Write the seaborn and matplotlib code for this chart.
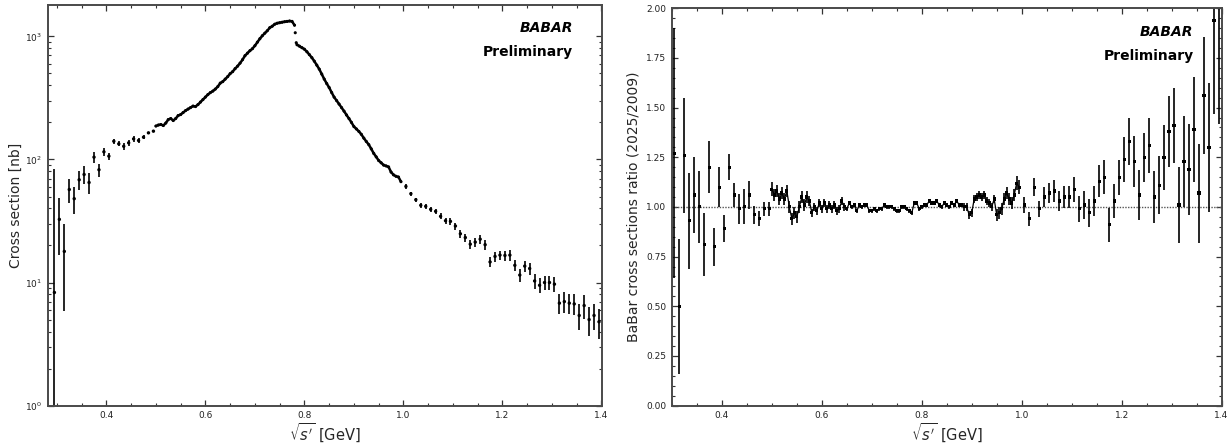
import numpy as np
import matplotlib
matplotlib.use("Agg")
import matplotlib.pyplot as plt
import seaborn as sns
from matplotlib.ticker import MultipleLocator, LogLocator, NullFormatter, FormatStrFormatter

# ---------------- e+e- -> pi+pi- cross section [nb] ----------------
# coarse 10 MeV bins below 0.5 GeV
mass_low = [0.295, 0.305, 0.315, 0.325, 0.335, 0.345, 0.355, 0.365, 0.375, 0.385,
            0.395, 0.405, 0.415, 0.425, 0.435, 0.445, 0.455, 0.465, 0.475, 0.485, 0.495]
xsec_low = [8.3, 32.6, 17.9, 57.0, 48.0, 68.4, 75.5, 65.0, 104.4, 82.5,
            115.4, 106.4, 140.6, 134.0, 128.0, 136.5, 147.0, 142.6, 151.7, 164.6, 169.8]
xsec_low_err = [76.0, 16.0, 12.0, 13.0, 12.0, 12.0, 12.5, 12.5, 11.0, 10.0,
                9.0, 7.5, 7.0, 6.0, 8.0, 8.0, 8.0, 6.0, 5.0, 4.0, 4.0]

# fine binning through the rho-omega region
mass_fine = [0.500, 0.505, 0.510, 0.515, 0.520, 0.525, 0.530, 0.535, 0.540, 0.545,
             0.550, 0.555, 0.560, 0.565, 0.570, 0.575, 0.580, 0.585, 0.590, 0.595,
             0.600, 0.605, 0.610, 0.615, 0.620, 0.625, 0.630, 0.635, 0.640, 0.645,
             0.650, 0.655, 0.660, 0.665, 0.670, 0.675, 0.680, 0.685, 0.690, 0.695,
             0.700, 0.705, 0.710, 0.715, 0.720, 0.725, 0.730, 0.735, 0.740, 0.745,
             0.750, 0.755, 0.760, 0.765, 0.770, 0.775, 0.780, 0.7815, 0.7835, 0.785,
             0.790, 0.795, 0.800, 0.805, 0.810, 0.815, 0.820, 0.825, 0.830, 0.835,
             0.840, 0.845, 0.850, 0.855, 0.860, 0.865, 0.870, 0.875, 0.880, 0.885,
             0.890, 0.895, 0.900, 0.905, 0.910, 0.915, 0.920, 0.925, 0.930, 0.935,
             0.940, 0.945, 0.950, 0.955, 0.960, 0.965, 0.970, 0.975, 0.980, 0.985,
             0.990, 0.995]
xsec_fine = [186.9, 190.5, 192.3, 188.7, 197.7, 211.1, 215.1, 207.2, 215.1, 227.5,
             231.7, 240.6, 249.7, 256.8, 264.1, 271.6, 269.1, 279.3, 292.6, 306.6,
             321.3, 336.7, 349.5, 359.4, 373.1, 390.9, 417.3, 429.2, 449.7, 471.2,
             498.3, 517.3, 547.1, 573.3, 606.3, 647.1, 697.7, 730.9, 765.9, 794.9,
             840.7, 897.5, 957.9, 1013.0, 1062.0, 1112.0, 1177.0, 1210.0, 1256.0, 1280.0,
             1292.0, 1304.0, 1316.0, 1324.0, 1334.0, 1324.0, 1233.0, 1071.0, 889.0, 856.0,
             833.0, 810.0, 787.0, 751.0, 711.0, 672.0, 629.0, 584.0, 542.0, 494.0,
             450.0, 414.0, 384.0, 350.0, 321.0, 301.0, 282.0, 264.0, 247.0, 230.0,
             215.0, 200.0, 185.0, 177.0, 169.0, 160.0, 149.0, 140.0, 132.0, 122.0,
             112.0, 105.0, 98.0, 94.0, 90.0, 88.6, 87.0, 79.0, 75.0, 73.0,
             72.0, 66.0]

# coarse 10 MeV bins above 1 GeV
mass_high = [1.005, 1.015, 1.025, 1.035, 1.045, 1.055, 1.065, 1.075, 1.085, 1.095,
             1.105, 1.115, 1.125, 1.135, 1.145, 1.155, 1.165, 1.175, 1.185, 1.195,
             1.205, 1.215, 1.225, 1.235, 1.245, 1.255, 1.265, 1.275, 1.285, 1.295,
             1.305, 1.315, 1.325, 1.335, 1.345, 1.355, 1.365, 1.375, 1.385, 1.395]
xsec_high = [60.4, 52.7, 47.1, 42.4, 41.6, 39.3, 37.9, 34.5, 31.8, 31.4,
             28.8, 24.9, 23.2, 20.5, 21.3, 22.5, 20.3, 14.7, 16.3, 16.7,
             16.6, 16.7, 13.8, 11.5, 13.6, 13.0, 10.3, 9.5, 10.0, 10.0,
             9.7, 6.8, 7.0, 6.8, 6.7, 5.4, 6.5, 5.0, 5.4, 4.8]
xsec_high_err = [2.4, 2.1, 1.9, 1.9, 1.9, 2.0, 2.0, 1.9, 1.8, 1.9,
                 1.9, 1.8, 1.8, 1.7, 1.8, 1.9, 1.8, 1.4, 1.5, 1.5,
                 1.5, 1.6, 1.5, 1.4, 1.5, 1.5, 1.4, 1.3, 1.3, 1.3,
                 1.3, 1.3, 1.3, 1.3, 1.3, 1.3, 1.4, 1.3, 1.3, 1.3]

# ---------------- ratio of the two BaBar measurements ----------------
ratio_mass_low = [0.305, 0.315, 0.325, 0.335, 0.345, 0.355, 0.365, 0.375, 0.385, 0.395,
                  0.405, 0.415, 0.425, 0.435, 0.445, 0.455, 0.465, 0.475, 0.485, 0.495]
ratio_low = [1.27, 0.50, 1.26, 0.93, 1.06, 1.00, 0.81, 1.20, 0.80, 1.10,
             0.89, 1.20, 1.06, 0.99, 1.00, 1.06, 0.96, 0.94, 0.99, 0.99]
ratio_low_err = [0.63, 0.34, 0.29, 0.24, 0.19, 0.18, 0.16, 0.13, 0.095, 0.10,
                 0.068, 0.066, 0.06, 0.077, 0.088, 0.07, 0.045, 0.038, 0.035, 0.035]

ratio_mass_fine = [0.500, 0.505, 0.510, 0.515, 0.520, 0.525, 0.530, 0.535, 0.540, 0.545,
                   0.550, 0.555, 0.560, 0.565, 0.570, 0.575, 0.580, 0.585, 0.590, 0.595,
                   0.600, 0.605, 0.610, 0.615, 0.620, 0.625, 0.630, 0.635, 0.640, 0.645,
                   0.650, 0.655, 0.660, 0.665, 0.670, 0.675, 0.680, 0.685, 0.690, 0.695,
                   0.700, 0.705, 0.710, 0.715, 0.720, 0.725, 0.730, 0.735, 0.740, 0.745,
                   0.750, 0.755, 0.760, 0.765, 0.770, 0.775, 0.780, 0.785, 0.790, 0.795,
                   0.800, 0.805, 0.810, 0.815, 0.820, 0.825, 0.830, 0.835, 0.840, 0.845,
                   0.850, 0.855, 0.860, 0.865, 0.870, 0.875, 0.880, 0.885, 0.890, 0.895,
                   0.900, 0.905, 0.910, 0.915, 0.920, 0.925, 0.930, 0.935, 0.940, 0.945,
                   0.950, 0.955, 0.960, 0.965, 0.970, 0.975, 0.980, 0.985, 0.990, 0.995]
ratio_fine = [1.09, 1.06, 1.08, 1.04, 1.07, 1.04, 1.08, 1.00, 0.94, 0.97,
              0.95, 1.00, 1.05, 1.01, 1.05, 1.03, 0.97, 1.00, 0.98, 1.02,
              0.99, 1.02, 0.99, 1.01, 0.99, 1.01, 0.98, 0.99, 1.03, 1.00,
              0.99, 1.02, 1.00, 1.01, 0.98, 1.01, 1.00, 1.01, 1.01, 0.98,
              0.98, 0.99, 0.98, 0.99, 0.99, 1.01, 1.00, 1.00, 1.00, 0.99,
              0.98, 0.98, 1.00, 1.00, 0.99, 0.98, 0.97, 1.02, 1.02, 0.99,
              1.00, 1.01, 1.01, 1.03, 1.02, 1.02, 1.03, 1.01, 1.00, 1.02,
              1.01, 1.00, 1.02, 1.01, 1.03, 1.01, 1.01, 1.00, 1.00, 0.96,
              0.97, 1.04, 1.05, 1.06, 1.05, 1.06, 1.03, 1.02, 1.00, 1.04,
              0.96, 0.97, 0.99, 1.04, 1.07, 1.04, 1.02, 1.06, 1.12, 1.10]
ratio_fine_err = [0.035, 0.03, 0.03, 0.03, 0.03, 0.03, 0.03, 0.03, 0.03, 0.03,
                  0.03, 0.03, 0.03, 0.03, 0.03, 0.025, 0.02, 0.02, 0.02, 0.02,
                  0.02, 0.02, 0.02, 0.02, 0.02, 0.02, 0.02, 0.02, 0.02, 0.02,
                  0.012, 0.012, 0.012, 0.012, 0.012, 0.012, 0.012, 0.012, 0.012, 0.012,
                  0.012, 0.012, 0.012, 0.012, 0.012, 0.012, 0.012, 0.012, 0.012, 0.012,
                  0.012, 0.012, 0.012, 0.012, 0.012, 0.012, 0.012, 0.012, 0.012, 0.012,
                  0.012, 0.012, 0.012, 0.012, 0.012, 0.012, 0.012, 0.012, 0.012, 0.012,
                  0.012, 0.012, 0.012, 0.012, 0.012, 0.012, 0.012, 0.02, 0.02, 0.02,
                  0.02, 0.02, 0.02, 0.02, 0.02, 0.02, 0.02, 0.02, 0.02, 0.02,
                  0.03, 0.03, 0.03, 0.03, 0.03, 0.03, 0.03, 0.03, 0.035, 0.035]

ratio_high = [1.01, 0.94, 1.10, 0.99, 1.05, 1.07, 1.08, 1.03, 1.05, 1.05,
              1.09, 0.99, 1.01, 0.97, 1.03, 1.13, 1.15, 0.91, 1.03, 1.15,
              1.24, 1.33, 1.23, 1.06, 1.25, 1.31, 1.05, 1.11, 1.25, 1.38,
              1.41, 1.01, 1.23, 1.19, 1.39, 1.07, 1.56, 1.30, 1.94, 2.20]
ratio_high_err = [0.04, 0.034, 0.046, 0.039, 0.048, 0.05, 0.054, 0.052, 0.056, 0.055,
                  0.063, 0.067, 0.071, 0.069, 0.074, 0.08, 0.086, 0.086, 0.088, 0.088,
                  0.112, 0.12, 0.128, 0.126, 0.124, 0.138, 0.132, 0.148, 0.163, 0.18,
                  0.19, 0.191, 0.228, 0.229, 0.263, 0.249, 0.294, 0.326, 0.47, 0.78]

X_LABEL = r"$\sqrt{s'}$ [GeV]"
BIN_HALF = 0.002  # short horizontal stroke marking each 10 MeV bin

# ---------------- style ----------------
sns.set_theme(style="ticks")
plt.rcParams.update({
    "font.family": ["DejaVu Sans"],
    "axes.edgecolor": "#4a4a4a",
    "axes.linewidth": 1.4,
    "xtick.color": "#333333",
    "ytick.color": "#333333",
    "xtick.labelcolor": "#222222",
    "ytick.labelcolor": "#222222",
})

fig = plt.figure(figsize=(12.3, 4.46), dpi=100)
ax1 = fig.add_axes([0.0390, 0.0906, 0.4504, 0.8982])
ax2 = fig.add_axes([0.5463, 0.0906, 0.4472, 0.8908])

bar_kw = dict(fmt="none", ecolor="black", elinewidth=1.2, capsize=0)
dot_kw = dict(color="black", edgecolor="none", linewidth=0, legend=False)


def style_axes(ax):
    ax.tick_params(which="both", direction="in", top=True, right=True,
                   labelsize=6.5, pad=4)
    ax.tick_params(which="major", length=4, width=0.9)
    ax.tick_params(which="minor", length=2.2, width=0.8)
    ax.xaxis.set_major_locator(MultipleLocator(0.2))
    ax.xaxis.set_minor_locator(MultipleLocator(0.05))
    ax.xaxis.set_major_formatter(FormatStrFormatter("%.1f"))
    ax.set_xlabel(X_LABEL, fontsize=10.5, labelpad=1)


def tag(ax, y0):
    ax.text(0.948, y0, "BABAR", transform=ax.transAxes, ha="right", va="center",
            fontsize=10, fontweight="bold", fontstyle="italic", color="black")
    ax.text(0.948, y0 - 0.06, "Preliminary", transform=ax.transAxes, ha="right",
            va="center", fontsize=10, fontweight="bold", color="black")


# ---- left: cross section ----
lo = np.array(xsec_low)
lo_err = np.array(xsec_low_err)
ax1.errorbar(mass_low, lo, yerr=[np.minimum(lo_err, lo * 0.999), lo_err],
             xerr=BIN_HALF, **bar_kw)
sns.scatterplot(x=mass_low, y=xsec_low, s=6, ax=ax1, **dot_kw)

# the dense rho region reads as a continuous chain of points; the omega drop stays as dots
n_rho = mass_fine.index(0.780) + 1
n_tail = mass_fine.index(0.785)
sns.lineplot(x=mass_fine[:n_rho], y=xsec_fine[:n_rho], ax=ax1, color="black",
             linewidth=1.8, sort=False, estimator=None, legend=False)
sns.lineplot(x=mass_fine[n_tail:], y=xsec_fine[n_tail:], ax=ax1, color="black",
             linewidth=1.8, sort=False, estimator=None, legend=False)
sns.scatterplot(x=mass_fine, y=xsec_fine, s=5, ax=ax1, **dot_kw)

ax1.errorbar(mass_high, xsec_high, yerr=xsec_high_err, xerr=BIN_HALF, **bar_kw)
sns.scatterplot(x=mass_high, y=xsec_high, s=6, ax=ax1, **dot_kw)

ax1.set_yscale("log")
ax1.set_xlim(0.282, 1.401)
ax1.set_ylim(1, 1800)
ax1.yaxis.set_major_locator(LogLocator(base=10, numticks=10))
ax1.yaxis.set_minor_locator(LogLocator(base=10, subs=np.arange(2, 10), numticks=20))
ax1.yaxis.set_minor_formatter(NullFormatter())
style_axes(ax1)
ax1.set_ylabel("Cross section [nb]", fontsize=10, labelpad=2)
tag(ax1, 0.942)

# ---- right: ratio ----
ax2.axhline(1.0, color="#555555", linestyle=(0, (1, 1)), linewidth=1.0, zorder=1)
ax2.errorbar(ratio_mass_low, ratio_low, yerr=ratio_low_err, xerr=BIN_HALF, **bar_kw)
sns.scatterplot(x=ratio_mass_low, y=ratio_low, s=5, marker="s", ax=ax2, **dot_kw)
ax2.errorbar(ratio_mass_fine, ratio_fine, yerr=ratio_fine_err, **bar_kw)
sns.lineplot(x=ratio_mass_fine, y=ratio_fine, ax=ax2, color="black", linewidth=0.9,
             sort=False, estimator=None, legend=False)
sns.scatterplot(x=ratio_mass_fine, y=ratio_fine, s=5, marker="s", ax=ax2, **dot_kw)
ax2.errorbar(mass_high, ratio_high, yerr=ratio_high_err, xerr=BIN_HALF, **bar_kw)
sns.scatterplot(x=mass_high, y=ratio_high, s=5, marker="s", ax=ax2, **dot_kw)

ax2.set_xlim(0.30, 1.401)
ax2.set_ylim(0.0, 2.0)
ax2.yaxis.set_major_locator(MultipleLocator(0.25))
ax2.yaxis.set_minor_locator(MultipleLocator(0.05))
ax2.yaxis.set_major_formatter(FormatStrFormatter("%.2f"))
style_axes(ax2)
ax2.set_ylabel("BaBar cross sections ratio (2025/2009)", fontsize=10, labelpad=4)
tag(ax2, 0.941)

fig.savefig("out.png", dpi=100)
